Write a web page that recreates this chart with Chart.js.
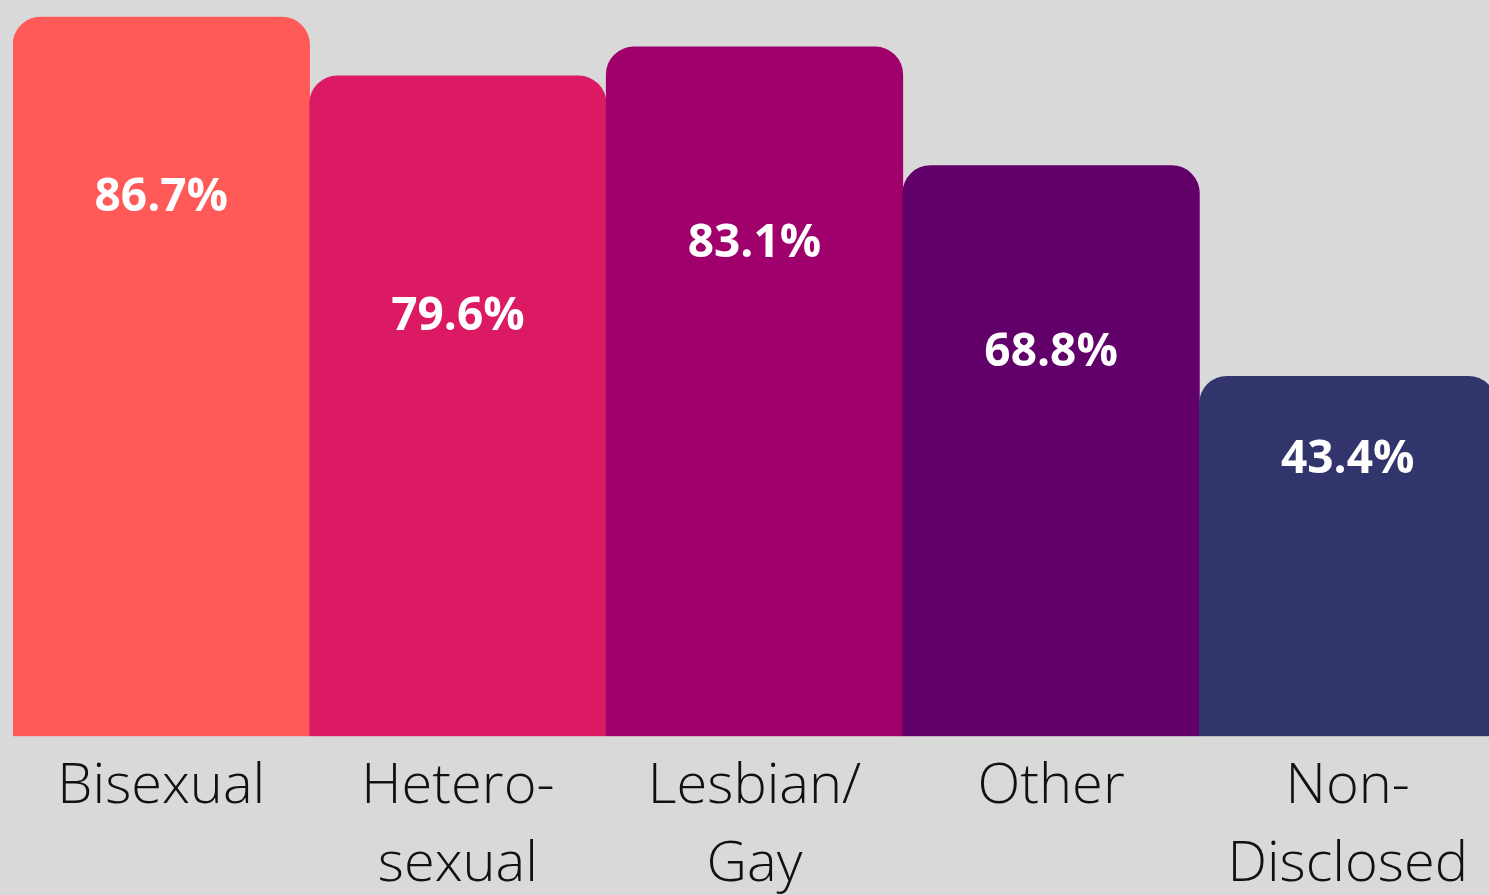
<!DOCTYPE html>
<html>
<head>
<meta charset="utf-8">
<script src="https://cdn.jsdelivr.net/npm/chart.js@4/dist/chart.umd.min.js"></script>
<style>
  html, body { margin:0; padding:0; background:#d9d9d9; overflow:hidden; }
  #wrap { position:absolute; left:0; top:0; width:1500px; height:908px; }
</style>
</head>
<body>
<div id="wrap"><canvas id="chart"></canvas></div>
<script>
// data
const categories = [['Bisexual'], ['Hetero-', 'sexual'], ['Lesbian/', 'Gay'], ['Other'], ['Non-', 'Disclosed']];
const values = [86.7, 79.6, 83.1, 68.8, 43.4];
const barColors = ['#ff5a57', '#db1a63', '#a0006b', '#62006a', '#31356c'];
// vertical offset (px) of each value label below its bar top
const labelOffsets = [181, 241, 197, 187, 84];

const valueLabels = {
  id: 'valueLabels',
  afterDatasetsDraw(chart){
    const ctx = chart.ctx;
    const meta = chart.getDatasetMeta(0);
    ctx.save();
    ctx.fillStyle = '#ffffff';
    ctx.font = "700 46px 'Open Sans'";
    ctx.textAlign = 'center';
    ctx.textBaseline = 'middle';
    meta.data.forEach((bar, i) => {
      ctx.fillText(values[i].toFixed(1) + '%', bar.x, bar.y + labelOffsets[i]);
    });
    ctx.restore();
  }
};

new Chart(document.getElementById('chart').getContext('2d'), {
  type: 'bar',
  data: {
    labels: categories,
    datasets: [{
      data: values,
      backgroundColor: barColors,
      borderWidth: 0,
      borderRadius: { topLeft: 28, topRight: 28, bottomLeft: 0, bottomRight: 0 },
      borderSkipped: 'bottom',
      categoryPercentage: 1.0,
      barPercentage: 1.0
    }]
  },
  options: {
    responsive: true,
    maintainAspectRatio: false,
    animation: false,
    layout: { padding: { left: 13, right: 4, top: 0, bottom: 0 } },
    plugins: { legend: { display: false }, tooltip: { enabled: false } },
    scales: {
      y: { display: false, min: 0, max: 88.75 },
      x: {
        grid: { display: false },
        border: { display: false },
        ticks: {
          color: '#111111',
          padding: 4,
          maxRotation: 0,
          autoSkip: false,
          font: { family: "'Open Sans'", weight: '300', size: 56, lineHeight: 1.39 }
        }
      }
    }
  },
  plugins: [valueLabels]
});
</script>
</body>
</html>
